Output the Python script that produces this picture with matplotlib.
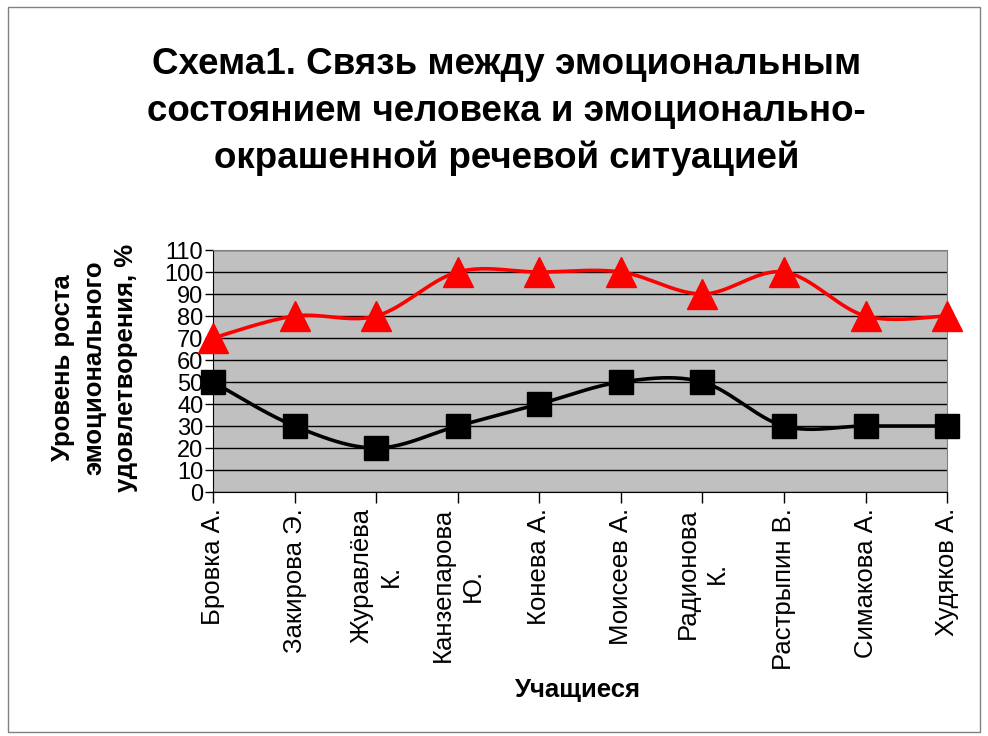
import matplotlib.pyplot as plt
import numpy as np
from matplotlib.patches import Rectangle

plt.rcParams["font.family"] = ["Liberation Sans", "DejaVu Sans"]

students = ["Бровка А.", "Закирова Э.", "Журавлёва\nК.", "Канзепарова\nЮ.", "Конева А.",
            "Моисеев А.", "Радионова\nК.", "Растрыпин В.", "Симакова А.", "Худяков А."]
red_vals = [70, 80, 80, 100, 100, 100, 90, 100, 80, 80]
black_vals = [50, 30, 20, 30, 40, 50, 50, 30, 30, 30]
y_ticks = list(range(0, 111, 10))


def smooth(y, n=40):
    # Catmull-Rom curve through the points, like Excel's smoothed line
    y = np.asarray(y, dtype=float)
    x = np.arange(len(y), dtype=float)
    px = np.concatenate([[x[0]], x, [x[-1]]])
    py = np.concatenate([[y[0]], y, [y[-1]]])
    xs, ys = [], []
    t = np.linspace(0, 1, n)
    for i in range(1, len(px) - 2):
        for p, out in ((px, xs), (py, ys)):
            p0, p1, p2, p3 = p[i - 1], p[i], p[i + 1], p[i + 2]
            m1 = (p2 - p0) / 2
            m2 = (p3 - p1) / 2
            h00 = 2 * t**3 - 3 * t**2 + 1
            h10 = t**3 - 2 * t**2 + t
            h01 = -2 * t**3 + 3 * t**2
            h11 = t**3 - t**2
            out.extend(h00 * p1 + h10 * m1 + h01 * p2 + h11 * m2)
    return np.array(xs), np.array(ys)


fig = plt.figure(figsize=(9.88, 7.36), dpi=100)
fig.patches.append(Rectangle((0.008, 0.005), 0.984, 0.985, transform=fig.transFigure,
                             fill=False, edgecolor="#808080", linewidth=1))

ax = fig.add_axes([0.2156, 0.3315, 0.743, 0.3288])
ax.set_facecolor("#C0C0C0")
ax.set_axisbelow(True)
ax.grid(axis="y", color="black", linewidth=1)

x = np.arange(len(students))
rx, ry = smooth(red_vals)
bx, by = smooth(black_vals)
ax.plot(rx, ry, color="#FF0000", linewidth=2.6, zorder=3)
ax.plot(x, red_vals, "^", color="#FF0000", markersize=21, zorder=4, clip_on=False)
ax.plot(bx, by, color="black", linewidth=2.6, zorder=3)
ax.plot(x, black_vals, "s", color="black", markersize=17.5, zorder=4, clip_on=False)

ax.set_xlim(0, len(students) - 1)
ax.set_ylim(0, 110)
ax.set_yticks(y_ticks)
ax.set_xticks(x)
ax.set_xticklabels(students, rotation=90, ha="center", va="top", multialignment="center",
                   linespacing=1.3)
ax.tick_params(axis="x", labelsize=18.5, direction="out", length=8, width=1)
ax.tick_params(axis="y", labelsize=17, direction="out", length=6, width=1, pad=1)
for s in ["top", "right"]:
    ax.spines[s].set_color("#808080")
ax.spines["left"].set_color("black")
ax.spines["bottom"].set_color("black")

fig.text(0.513, 0.936, "Схема1. Связь между эмоциональным\nсостоянием человека и эмоционально-\nокрашенной речевой ситуацией",
         ha="center", va="top", fontsize=26.5, fontweight="bold", linespacing=1.43)
fig.text(0.096, 0.5, "Уровень роста\nэмоционального\nудовлетворения, %", rotation=90,
         ha="center", va="center", multialignment="center", fontsize=18.5, fontweight="bold",
         linespacing=1.4)
fig.text(0.585, 0.062, "Учащиеся", ha="center", va="center", fontsize=18.5, fontweight="bold")

plt.savefig("out.png", dpi=100)
